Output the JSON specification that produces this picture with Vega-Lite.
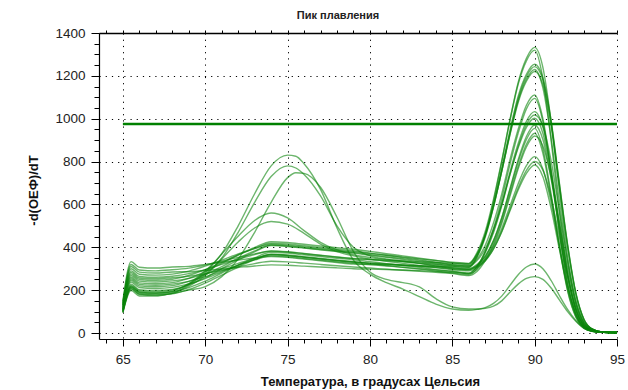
{
"$schema":"https://vega.github.io/schema/vega-lite/v6.json",
"width":518,"height":306,
"autosize":{"type":"none"},
"padding":{"left":99,"top":33,"right":11,"bottom":51},
"background":"white",
"config":{"view":{"stroke":null}},
"title":{"text":"Пик плавления","frame":"group","anchor":"middle","dx":-20,"fontSize":11,"fontWeight":"bold","font":"Liberation Sans","color":"#222","offset":5},
"datasets":{
"thr":[{"thr":975,"x1":65,"x2":95}],
"curves":[
{"s":"c1","t":65,"v":150},{"s":"c1","t":65.5,"v":333},{"s":"c1","t":66,"v":307},{"s":"c1","t":67,"v":303},{"s":"c1","t":68,"v":308},{"s":"c1","t":69,"v":311},{"s":"c1","t":70,"v":320},{"s":"c1","t":71,"v":330},{"s":"c1","t":72,"v":340},{"s":"c1","t":73,"v":350},{"s":"c1","t":74,"v":357},{"s":"c1","t":75,"v":353},{"s":"c1","t":76,"v":345},{"s":"c1","t":77,"v":337},{"s":"c1","t":78,"v":329},{"s":"c1","t":79,"v":322},{"s":"c1","t":80,"v":320},{"s":"c1","t":81,"v":318},{"s":"c1","t":82,"v":316},{"s":"c1","t":83,"v":314},{"s":"c1","t":84,"v":312},{"s":"c1","t":85,"v":310},{"s":"c1","t":86,"v":305},{"s":"c1","t":86.5,"v":356},{"s":"c1","t":87,"v":459},{"s":"c1","t":87.5,"v":613},{"s":"c1","t":88,"v":798},{"s":"c1","t":88.5,"v":994},{"s":"c1","t":89,"v":1169},{"s":"c1","t":89.5,"v":1282},{"s":"c1","t":90,"v":1333},{"s":"c1","t":90.5,"v":1240},{"s":"c1","t":91,"v":986},{"s":"c1","t":91.5,"v":667},{"s":"c1","t":92,"v":360},{"s":"c1","t":92.5,"v":147},{"s":"c1","t":93,"v":47},{"s":"c1","t":93.5,"v":12},{"s":"c1","t":94,"v":5},{"s":"c1","t":95,"v":2},
{"s":"c2","t":65,"v":140},{"s":"c2","t":65.5,"v":320},{"s":"c2","t":66,"v":294},{"s":"c2","t":67,"v":290},{"s":"c2","t":68,"v":295},{"s":"c2","t":69,"v":303},{"s":"c2","t":70,"v":317},{"s":"c2","t":71,"v":335},{"s":"c2","t":72,"v":353},{"s":"c2","t":73,"v":369},{"s":"c2","t":74,"v":382},{"s":"c2","t":75,"v":378},{"s":"c2","t":76,"v":370},{"s":"c2","t":77,"v":362},{"s":"c2","t":78,"v":354},{"s":"c2","t":79,"v":347},{"s":"c2","t":80,"v":343},{"s":"c2","t":81,"v":340},{"s":"c2","t":82,"v":336},{"s":"c2","t":83,"v":332},{"s":"c2","t":84,"v":329},{"s":"c2","t":85,"v":325},{"s":"c2","t":86,"v":320},{"s":"c2","t":86.5,"v":367},{"s":"c2","t":87,"v":460},{"s":"c2","t":87.5,"v":600},{"s":"c2","t":88,"v":768},{"s":"c2","t":88.5,"v":946},{"s":"c2","t":89,"v":1105},{"s":"c2","t":89.5,"v":1207},{"s":"c2","t":90,"v":1254},{"s":"c2","t":90.5,"v":1191},{"s":"c2","t":91,"v":991},{"s":"c2","t":91.5,"v":702},{"s":"c2","t":92,"v":414},{"s":"c2","t":92.5,"v":188},{"s":"c2","t":93,"v":63},{"s":"c2","t":93.5,"v":18},{"s":"c2","t":94,"v":6},{"s":"c2","t":95,"v":2},
{"s":"c3","t":65,"v":130},{"s":"c3","t":65.5,"v":310},{"s":"c3","t":66,"v":284},{"s":"c3","t":67,"v":280},{"s":"c3","t":68,"v":285},{"s":"c3","t":69,"v":286},{"s":"c3","t":70,"v":292},{"s":"c3","t":71,"v":299},{"s":"c3","t":72,"v":306},{"s":"c3","t":73,"v":313},{"s":"c3","t":74,"v":318},{"s":"c3","t":75,"v":316},{"s":"c3","t":76,"v":312},{"s":"c3","t":77,"v":308},{"s":"c3","t":78,"v":304},{"s":"c3","t":79,"v":300},{"s":"c3","t":80,"v":298},{"s":"c3","t":81,"v":296},{"s":"c3","t":82,"v":294},{"s":"c3","t":83,"v":291},{"s":"c3","t":84,"v":287},{"s":"c3","t":85,"v":283},{"s":"c3","t":86,"v":278},{"s":"c3","t":86.5,"v":310},{"s":"c3","t":87,"v":382},{"s":"c3","t":87.5,"v":488},{"s":"c3","t":88,"v":625},{"s":"c3","t":88.5,"v":787},{"s":"c3","t":89,"v":933},{"s":"c3","t":89.5,"v":1046},{"s":"c3","t":90,"v":1095},{"s":"c3","t":90.5,"v":986},{"s":"c3","t":91,"v":745},{"s":"c3","t":91.5,"v":471},{"s":"c3","t":92,"v":230},{"s":"c3","t":92.5,"v":88},{"s":"c3","t":93,"v":27},{"s":"c3","t":93.5,"v":8},{"s":"c3","t":94,"v":4},{"s":"c3","t":95,"v":2},
{"s":"c4","t":65,"v":145},{"s":"c4","t":65.5,"v":300},{"s":"c4","t":66,"v":274},{"s":"c4","t":67,"v":270},{"s":"c4","t":68,"v":275},{"s":"c4","t":69,"v":289},{"s":"c4","t":70,"v":312},{"s":"c4","t":71,"v":340},{"s":"c4","t":72,"v":369},{"s":"c4","t":73,"v":394},{"s":"c4","t":74,"v":414},{"s":"c4","t":75,"v":410},{"s":"c4","t":76,"v":402},{"s":"c4","t":77,"v":394},{"s":"c4","t":78,"v":386},{"s":"c4","t":79,"v":379},{"s":"c4","t":80,"v":371},{"s":"c4","t":81,"v":363},{"s":"c4","t":82,"v":355},{"s":"c4","t":83,"v":346},{"s":"c4","t":84,"v":338},{"s":"c4","t":85,"v":330},{"s":"c4","t":86,"v":325},{"s":"c4","t":86.5,"v":375},{"s":"c4","t":87,"v":474},{"s":"c4","t":87.5,"v":624},{"s":"c4","t":88,"v":803},{"s":"c4","t":88.5,"v":992},{"s":"c4","t":89,"v":1161},{"s":"c4","t":89.5,"v":1270},{"s":"c4","t":90,"v":1320},{"s":"c4","t":90.5,"v":1188},{"s":"c4","t":91,"v":898},{"s":"c4","t":91.5,"v":568},{"s":"c4","t":92,"v":277},{"s":"c4","t":92.5,"v":106},{"s":"c4","t":93,"v":33},{"s":"c4","t":93.5,"v":8},{"s":"c4","t":94,"v":4},{"s":"c4","t":95,"v":2},
{"s":"c5","t":65,"v":120},{"s":"c5","t":65.5,"v":290},{"s":"c5","t":66,"v":264},{"s":"c5","t":67,"v":260},{"s":"c5","t":68,"v":265},{"s":"c5","t":69,"v":277},{"s":"c5","t":70,"v":296},{"s":"c5","t":71,"v":320},{"s":"c5","t":72,"v":344},{"s":"c5","t":73,"v":366},{"s":"c5","t":74,"v":383},{"s":"c5","t":75,"v":379},{"s":"c5","t":76,"v":371},{"s":"c5","t":77,"v":363},{"s":"c5","t":78,"v":355},{"s":"c5","t":79,"v":348},{"s":"c5","t":80,"v":343},{"s":"c5","t":81,"v":337},{"s":"c5","t":82,"v":332},{"s":"c5","t":83,"v":326},{"s":"c5","t":84,"v":321},{"s":"c5","t":85,"v":315},{"s":"c5","t":86,"v":310},{"s":"c5","t":86.5,"v":338},{"s":"c5","t":87,"v":393},{"s":"c5","t":87.5,"v":483},{"s":"c5","t":88,"v":601},{"s":"c5","t":88.5,"v":739},{"s":"c5","t":89,"v":864},{"s":"c5","t":89.5,"v":960},{"s":"c5","t":90,"v":1002},{"s":"c5","t":90.5,"v":932},{"s":"c5","t":91,"v":741},{"s":"c5","t":91.5,"v":501},{"s":"c5","t":92,"v":271},{"s":"c5","t":92.5,"v":110},{"s":"c5","t":93,"v":35},{"s":"c5","t":93.5,"v":12},{"s":"c5","t":94,"v":5},{"s":"c5","t":95,"v":2},
{"s":"c6","t":65,"v":135},{"s":"c6","t":65.5,"v":283},{"s":"c6","t":66,"v":257},{"s":"c6","t":67,"v":253},{"s":"c6","t":68,"v":258},{"s":"c6","t":69,"v":265},{"s":"c6","t":70,"v":277},{"s":"c6","t":71,"v":293},{"s":"c6","t":72,"v":309},{"s":"c6","t":73,"v":324},{"s":"c6","t":74,"v":335},{"s":"c6","t":75,"v":332},{"s":"c6","t":76,"v":326},{"s":"c6","t":77,"v":320},{"s":"c6","t":78,"v":314},{"s":"c6","t":79,"v":308},{"s":"c6","t":80,"v":303},{"s":"c6","t":81,"v":298},{"s":"c6","t":82,"v":293},{"s":"c6","t":83,"v":288},{"s":"c6","t":84,"v":283},{"s":"c6","t":85,"v":277},{"s":"c6","t":86,"v":268},{"s":"c6","t":86.5,"v":287},{"s":"c6","t":87,"v":338},{"s":"c6","t":87.5,"v":408},{"s":"c6","t":88,"v":510},{"s":"c6","t":88.5,"v":638},{"s":"c6","t":89,"v":766},{"s":"c6","t":89.5,"v":868},{"s":"c6","t":90,"v":919},{"s":"c6","t":90.5,"v":873},{"s":"c6","t":91,"v":726},{"s":"c6","t":91.5,"v":515},{"s":"c6","t":92,"v":303},{"s":"c6","t":92.5,"v":138},{"s":"c6","t":93,"v":46},{"s":"c6","t":93.5,"v":18},{"s":"c6","t":94,"v":6},{"s":"c6","t":95,"v":2},
{"s":"c7","t":65,"v":125},{"s":"c7","t":65.5,"v":276},{"s":"c7","t":66,"v":250},{"s":"c7","t":67,"v":246},{"s":"c7","t":68,"v":251},{"s":"c7","t":69,"v":269},{"s":"c7","t":70,"v":296},{"s":"c7","t":71,"v":330},{"s":"c7","t":72,"v":364},{"s":"c7","t":73,"v":395},{"s":"c7","t":74,"v":419},{"s":"c7","t":75,"v":415},{"s":"c7","t":76,"v":407},{"s":"c7","t":77,"v":399},{"s":"c7","t":78,"v":391},{"s":"c7","t":79,"v":384},{"s":"c7","t":80,"v":373},{"s":"c7","t":81,"v":363},{"s":"c7","t":82,"v":352},{"s":"c7","t":83,"v":341},{"s":"c7","t":84,"v":331},{"s":"c7","t":85,"v":320},{"s":"c7","t":86,"v":315},{"s":"c7","t":86.5,"v":361},{"s":"c7","t":87,"v":452},{"s":"c7","t":87.5,"v":590},{"s":"c7","t":88,"v":754},{"s":"c7","t":88.5,"v":928},{"s":"c7","t":89,"v":1084},{"s":"c7","t":89.5,"v":1184},{"s":"c7","t":90,"v":1230},{"s":"c7","t":90.5,"v":1144},{"s":"c7","t":91,"v":910},{"s":"c7","t":91.5,"v":615},{"s":"c7","t":92,"v":332},{"s":"c7","t":92.5,"v":135},{"s":"c7","t":93,"v":43},{"s":"c7","t":93.5,"v":12},{"s":"c7","t":94,"v":5},{"s":"c7","t":95,"v":2},
{"s":"c8","t":65,"v":115},{"s":"c8","t":65.5,"v":268},{"s":"c8","t":66,"v":242},{"s":"c8","t":67,"v":238},{"s":"c8","t":68,"v":243},{"s":"c8","t":69,"v":255},{"s":"c8","t":70,"v":275},{"s":"c8","t":71,"v":300},{"s":"c8","t":72,"v":325},{"s":"c8","t":73,"v":348},{"s":"c8","t":74,"v":365},{"s":"c8","t":75,"v":361},{"s":"c8","t":76,"v":353},{"s":"c8","t":77,"v":345},{"s":"c8","t":78,"v":337},{"s":"c8","t":79,"v":330},{"s":"c8","t":80,"v":326},{"s":"c8","t":81,"v":322},{"s":"c8","t":82,"v":318},{"s":"c8","t":83,"v":313},{"s":"c8","t":84,"v":309},{"s":"c8","t":85,"v":305},{"s":"c8","t":86,"v":300},{"s":"c8","t":86.5,"v":320},{"s":"c8","t":87,"v":359},{"s":"c8","t":87.5,"v":431},{"s":"c8","t":88,"v":536},{"s":"c8","t":88.5,"v":667},{"s":"c8","t":89,"v":798},{"s":"c8","t":89.5,"v":903},{"s":"c8","t":90,"v":955},{"s":"c8","t":90.5,"v":860},{"s":"c8","t":91,"v":649},{"s":"c8","t":91.5,"v":411},{"s":"c8","t":92,"v":201},{"s":"c8","t":92.5,"v":76},{"s":"c8","t":93,"v":24},{"s":"c8","t":93.5,"v":8},{"s":"c8","t":94,"v":4},{"s":"c8","t":95,"v":2},
{"s":"c9","t":65,"v":130},{"s":"c9","t":65.5,"v":260},{"s":"c9","t":66,"v":234},{"s":"c9","t":67,"v":230},{"s":"c9","t":68,"v":235},{"s":"c9","t":69,"v":255},{"s":"c9","t":70,"v":286},{"s":"c9","t":71,"v":325},{"s":"c9","t":72,"v":364},{"s":"c9","t":73,"v":399},{"s":"c9","t":74,"v":426},{"s":"c9","t":75,"v":422},{"s":"c9","t":76,"v":414},{"s":"c9","t":77,"v":406},{"s":"c9","t":78,"v":398},{"s":"c9","t":79,"v":391},{"s":"c9","t":80,"v":381},{"s":"c9","t":81,"v":370},{"s":"c9","t":82,"v":360},{"s":"c9","t":83,"v":349},{"s":"c9","t":84,"v":339},{"s":"c9","t":85,"v":328},{"s":"c9","t":86,"v":323},{"s":"c9","t":86.5,"v":368},{"s":"c9","t":87,"v":458},{"s":"c9","t":87.5,"v":592},{"s":"c9","t":88,"v":754},{"s":"c9","t":88.5,"v":924},{"s":"c9","t":89,"v":1076},{"s":"c9","t":89.5,"v":1175},{"s":"c9","t":90,"v":1220},{"s":"c9","t":90.5,"v":1159},{"s":"c9","t":91,"v":964},{"s":"c9","t":91.5,"v":683},{"s":"c9","t":92,"v":403},{"s":"c9","t":92.5,"v":183},{"s":"c9","t":93,"v":61},{"s":"c9","t":93.5,"v":18},{"s":"c9","t":94,"v":6},{"s":"c9","t":95,"v":2},
{"s":"c10","t":65,"v":110},{"s":"c10","t":65.5,"v":253},{"s":"c10","t":66,"v":227},{"s":"c10","t":67,"v":223},{"s":"c10","t":68,"v":228},{"s":"c10","t":69,"v":241},{"s":"c10","t":70,"v":263},{"s":"c10","t":71,"v":290},{"s":"c10","t":72,"v":317},{"s":"c10","t":73,"v":341},{"s":"c10","t":74,"v":360},{"s":"c10","t":75,"v":356},{"s":"c10","t":76,"v":348},{"s":"c10","t":77,"v":340},{"s":"c10","t":78,"v":332},{"s":"c10","t":79,"v":325},{"s":"c10","t":80,"v":319},{"s":"c10","t":81,"v":313},{"s":"c10","t":82,"v":307},{"s":"c10","t":83,"v":300},{"s":"c10","t":84,"v":294},{"s":"c10","t":85,"v":288},{"s":"c10","t":86,"v":280},{"s":"c10","t":86.5,"v":310},{"s":"c10","t":87,"v":379},{"s":"c10","t":87.5,"v":476},{"s":"c10","t":88,"v":602},{"s":"c10","t":88.5,"v":751},{"s":"c10","t":89,"v":884},{"s":"c10","t":89.5,"v":988},{"s":"c10","t":90,"v":1033},{"s":"c10","t":90.5,"v":961},{"s":"c10","t":91,"v":764},{"s":"c10","t":91.5,"v":517},{"s":"c10","t":92,"v":279},{"s":"c10","t":92.5,"v":114},{"s":"c10","t":93,"v":36},{"s":"c10","t":93.5,"v":12},{"s":"c10","t":94,"v":5},{"s":"c10","t":95,"v":2},
{"s":"c11","t":65,"v":120},{"s":"c11","t":65.5,"v":246},{"s":"c11","t":66,"v":220},{"s":"c11","t":67,"v":216},{"s":"c11","t":68,"v":221},{"s":"c11","t":69,"v":241},{"s":"c11","t":70,"v":272},{"s":"c11","t":71,"v":310},{"s":"c11","t":72,"v":349},{"s":"c11","t":73,"v":383},{"s":"c11","t":74,"v":410},{"s":"c11","t":75,"v":406},{"s":"c11","t":76,"v":398},{"s":"c11","t":77,"v":390},{"s":"c11","t":78,"v":382},{"s":"c11","t":79,"v":375},{"s":"c11","t":80,"v":366},{"s":"c11","t":81,"v":356},{"s":"c11","t":82,"v":347},{"s":"c11","t":83,"v":337},{"s":"c11","t":84,"v":328},{"s":"c11","t":85,"v":318},{"s":"c11","t":86,"v":313},{"s":"c11","t":86.5,"v":345},{"s":"c11","t":87,"v":409},{"s":"c11","t":87.5,"v":513},{"s":"c11","t":88,"v":648},{"s":"c11","t":88.5,"v":808},{"s":"c11","t":89,"v":951},{"s":"c11","t":89.5,"v":1063},{"s":"c11","t":90,"v":1111},{"s":"c11","t":90.5,"v":1000},{"s":"c11","t":91,"v":755},{"s":"c11","t":91.5,"v":478},{"s":"c11","t":92,"v":233},{"s":"c11","t":92.5,"v":89},{"s":"c11","t":93,"v":28},{"s":"c11","t":93.5,"v":8},{"s":"c11","t":94,"v":4},{"s":"c11","t":95,"v":2},
{"s":"c12","t":65,"v":105},{"s":"c12","t":65.5,"v":238},{"s":"c12","t":66,"v":212},{"s":"c12","t":67,"v":208},{"s":"c12","t":68,"v":213},{"s":"c12","t":69,"v":229},{"s":"c12","t":70,"v":254},{"s":"c12","t":71,"v":285},{"s":"c12","t":72,"v":316},{"s":"c12","t":73,"v":344},{"s":"c12","t":74,"v":366},{"s":"c12","t":75,"v":362},{"s":"c12","t":76,"v":354},{"s":"c12","t":77,"v":346},{"s":"c12","t":78,"v":338},{"s":"c12","t":79,"v":331},{"s":"c12","t":80,"v":326},{"s":"c12","t":81,"v":321},{"s":"c12","t":82,"v":316},{"s":"c12","t":83,"v":310},{"s":"c12","t":84,"v":305},{"s":"c12","t":85,"v":300},{"s":"c12","t":86,"v":295},{"s":"c12","t":86.5,"v":315},{"s":"c12","t":87,"v":356},{"s":"c12","t":87.5,"v":430},{"s":"c12","t":88,"v":538},{"s":"c12","t":88.5,"v":674},{"s":"c12","t":89,"v":809},{"s":"c12","t":89.5,"v":917},{"s":"c12","t":90,"v":971},{"s":"c12","t":90.5,"v":903},{"s":"c12","t":91,"v":719},{"s":"c12","t":91.5,"v":486},{"s":"c12","t":92,"v":262},{"s":"c12","t":92.5,"v":107},{"s":"c12","t":93,"v":34},{"s":"c12","t":93.5,"v":12},{"s":"c12","t":94,"v":5},{"s":"c12","t":95,"v":2},
{"s":"c13","t":65,"v":110},{"s":"c13","t":65.5,"v":228},{"s":"c13","t":66,"v":202},{"s":"c13","t":67,"v":198},{"s":"c13","t":68,"v":203},{"s":"c13","t":69,"v":225},{"s":"c13","t":70,"v":258},{"s":"c13","t":71,"v":300},{"s":"c13","t":72,"v":341},{"s":"c13","t":73,"v":379},{"s":"c13","t":74,"v":408},{"s":"c13","t":75,"v":404},{"s":"c13","t":76,"v":396},{"s":"c13","t":77,"v":388},{"s":"c13","t":78,"v":380},{"s":"c13","t":79,"v":373},{"s":"c13","t":80,"v":363},{"s":"c13","t":81,"v":353},{"s":"c13","t":82,"v":343},{"s":"c13","t":83,"v":332},{"s":"c13","t":84,"v":322},{"s":"c13","t":85,"v":312},{"s":"c13","t":86,"v":307},{"s":"c13","t":86.5,"v":354},{"s":"c13","t":87,"v":447},{"s":"c13","t":87.5,"v":588},{"s":"c13","t":88,"v":756},{"s":"c13","t":88.5,"v":934},{"s":"c13","t":89,"v":1093},{"s":"c13","t":89.5,"v":1196},{"s":"c13","t":90,"v":1243},{"s":"c13","t":90.5,"v":1181},{"s":"c13","t":91,"v":982},{"s":"c13","t":91.5,"v":696},{"s":"c13","t":92,"v":410},{"s":"c13","t":92.5,"v":186},{"s":"c13","t":93,"v":62},{"s":"c13","t":93.5,"v":18},{"s":"c13","t":94,"v":6},{"s":"c13","t":95,"v":2},
{"s":"c14","t":65,"v":100},{"s":"c14","t":65.5,"v":218},{"s":"c14","t":66,"v":192},{"s":"c14","t":67,"v":188},{"s":"c14","t":68,"v":193},{"s":"c14","t":69,"v":212},{"s":"c14","t":70,"v":242},{"s":"c14","t":71,"v":280},{"s":"c14","t":72,"v":317},{"s":"c14","t":73,"v":351},{"s":"c14","t":74,"v":377},{"s":"c14","t":75,"v":373},{"s":"c14","t":76,"v":365},{"s":"c14","t":77,"v":357},{"s":"c14","t":78,"v":349},{"s":"c14","t":79,"v":342},{"s":"c14","t":80,"v":333},{"s":"c14","t":81,"v":324},{"s":"c14","t":82,"v":315},{"s":"c14","t":83,"v":306},{"s":"c14","t":84,"v":296},{"s":"c14","t":85,"v":287},{"s":"c14","t":86,"v":277},{"s":"c14","t":86.5,"v":296},{"s":"c14","t":87,"v":348},{"s":"c14","t":87.5,"v":418},{"s":"c14","t":88,"v":521},{"s":"c14","t":88.5,"v":650},{"s":"c14","t":89,"v":778},{"s":"c14","t":89.5,"v":881},{"s":"c14","t":90,"v":932},{"s":"c14","t":90.5,"v":839},{"s":"c14","t":91,"v":634},{"s":"c14","t":91.5,"v":401},{"s":"c14","t":92,"v":196},{"s":"c14","t":92.5,"v":75},{"s":"c14","t":93,"v":23},{"s":"c14","t":93.5,"v":8},{"s":"c14","t":94,"v":4},{"s":"c14","t":95,"v":2},
{"s":"c15","t":65,"v":95},{"s":"c15","t":65.5,"v":208},{"s":"c15","t":66,"v":182},{"s":"c15","t":67,"v":178},{"s":"c15","t":68,"v":183},{"s":"c15","t":69,"v":203},{"s":"c15","t":70,"v":233},{"s":"c15","t":71,"v":270},{"s":"c15","t":72,"v":308},{"s":"c15","t":73,"v":342},{"s":"c15","t":74,"v":368},{"s":"c15","t":75,"v":364},{"s":"c15","t":76,"v":356},{"s":"c15","t":77,"v":348},{"s":"c15","t":78,"v":340},{"s":"c15","t":79,"v":333},{"s":"c15","t":80,"v":324},{"s":"c15","t":81,"v":315},{"s":"c15","t":82,"v":306},{"s":"c15","t":83,"v":298},{"s":"c15","t":84,"v":289},{"s":"c15","t":85,"v":280},{"s":"c15","t":86,"v":272},{"s":"c15","t":86.5,"v":301},{"s":"c15","t":87,"v":373},{"s":"c15","t":87.5,"v":468},{"s":"c15","t":88,"v":592},{"s":"c15","t":88.5,"v":739},{"s":"c15","t":89,"v":871},{"s":"c15","t":89.5,"v":973},{"s":"c15","t":90,"v":1017},{"s":"c15","t":90.5,"v":966},{"s":"c15","t":91,"v":803},{"s":"c15","t":91.5,"v":570},{"s":"c15","t":92,"v":336},{"s":"c15","t":92.5,"v":153},{"s":"c15","t":93,"v":51},{"s":"c15","t":93.5,"v":18},{"s":"c15","t":94,"v":6},{"s":"c15","t":95,"v":2},
{"s":"D","t":65,"v":105},{"s":"D","t":65.5,"v":222},{"s":"D","t":66,"v":197},{"s":"D","t":67,"v":193},{"s":"D","t":68,"v":200},{"s":"D","t":69,"v":228},{"s":"D","t":70,"v":282},{"s":"D","t":71,"v":368},{"s":"D","t":72,"v":452},{"s":"D","t":73,"v":525},{"s":"D","t":74,"v":560},{"s":"D","t":75,"v":537},{"s":"D","t":76,"v":478},{"s":"D","t":77,"v":423},{"s":"D","t":78,"v":388},{"s":"D","t":79,"v":365},{"s":"D","t":80,"v":352},{"s":"D","t":81,"v":343},{"s":"D","t":82,"v":335},{"s":"D","t":83,"v":325},{"s":"D","t":84,"v":315},{"s":"D","t":85,"v":305},{"s":"D","t":86,"v":298},{"s":"D","t":86.5,"v":314},{"s":"D","t":87,"v":345},{"s":"D","t":87.5,"v":403},{"s":"D","t":88,"v":487},{"s":"D","t":88.5,"v":592},{"s":"D","t":89,"v":697},{"s":"D","t":89.5,"v":781},{"s":"D","t":90,"v":823},{"s":"D","t":90.5,"v":765},{"s":"D","t":91,"v":609},{"s":"D","t":91.5,"v":412},{"s":"D","t":92,"v":222},{"s":"D","t":92.5,"v":91},{"s":"D","t":93,"v":29},{"s":"D","t":93.5,"v":12},{"s":"D","t":94,"v":5},{"s":"D","t":95,"v":2},
{"s":"E","t":65,"v":100},{"s":"E","t":65.5,"v":212},{"s":"E","t":66,"v":187},{"s":"E","t":67,"v":183},{"s":"E","t":68,"v":190},{"s":"E","t":69,"v":218},{"s":"E","t":70,"v":268},{"s":"E","t":71,"v":345},{"s":"E","t":72,"v":425},{"s":"E","t":73,"v":490},{"s":"E","t":74,"v":520},{"s":"E","t":75,"v":508},{"s":"E","t":76,"v":465},{"s":"E","t":77,"v":415},{"s":"E","t":78,"v":380},{"s":"E","t":79,"v":360},{"s":"E","t":80,"v":345},{"s":"E","t":81,"v":335},{"s":"E","t":82,"v":325},{"s":"E","t":83,"v":315},{"s":"E","t":84,"v":305},{"s":"E","t":85,"v":295},{"s":"E","t":86,"v":290},{"s":"E","t":86.5,"v":305},{"s":"E","t":87,"v":336},{"s":"E","t":87.5,"v":392},{"s":"E","t":88,"v":474},{"s":"E","t":88.5,"v":576},{"s":"E","t":89,"v":678},{"s":"E","t":89.5,"v":759},{"s":"E","t":90,"v":800},{"s":"E","t":90.5,"v":760},{"s":"E","t":91,"v":632},{"s":"E","t":91.5,"v":448},{"s":"E","t":92,"v":264},{"s":"E","t":92.5,"v":120},{"s":"E","t":93,"v":40},{"s":"E","t":93.5,"v":18},{"s":"E","t":94,"v":6},{"s":"E","t":95,"v":2},
{"s":"B","t":65,"v":100},{"s":"B","t":65.5,"v":205},{"s":"B","t":66,"v":180},{"s":"B","t":67,"v":176},{"s":"B","t":68,"v":185},{"s":"B","t":69,"v":225},{"s":"B","t":70,"v":275},{"s":"B","t":71,"v":350},{"s":"B","t":72,"v":470},{"s":"B","t":73,"v":610},{"s":"B","t":74,"v":730},{"s":"B","t":75,"v":780},{"s":"B","t":75.5,"v":770},{"s":"B","t":76,"v":740},{"s":"B","t":77,"v":640},{"s":"B","t":78,"v":500},{"s":"B","t":79,"v":400},{"s":"B","t":80,"v":360},{"s":"B","t":81,"v":345},{"s":"B","t":82,"v":335},{"s":"B","t":83,"v":325},{"s":"B","t":84,"v":312},{"s":"B","t":85,"v":300},{"s":"B","t":86,"v":295},{"s":"B","t":86.5,"v":310},{"s":"B","t":87,"v":339},{"s":"B","t":87.5,"v":393},{"s":"B","t":88,"v":471},{"s":"B","t":88.5,"v":569},{"s":"B","t":89,"v":667},{"s":"B","t":89.5,"v":745},{"s":"B","t":90,"v":784},{"s":"B","t":90.5,"v":729},{"s":"B","t":91,"v":580},{"s":"B","t":91.5,"v":392},{"s":"B","t":92,"v":212},{"s":"B","t":92.5,"v":86},{"s":"B","t":93,"v":27},{"s":"B","t":93.5,"v":12},{"s":"B","t":94,"v":5},{"s":"B","t":95,"v":2},
{"s":"A","t":65,"v":110},{"s":"A","t":65.5,"v":215},{"s":"A","t":66,"v":190},{"s":"A","t":67,"v":186},{"s":"A","t":68,"v":195},{"s":"A","t":69,"v":230},{"s":"A","t":70,"v":290},{"s":"A","t":71,"v":370},{"s":"A","t":72,"v":500},{"s":"A","t":73,"v":650},{"s":"A","t":74,"v":780},{"s":"A","t":75,"v":830},{"s":"A","t":75.5,"v":825},{"s":"A","t":76,"v":790},{"s":"A","t":77,"v":670},{"s":"A","t":78,"v":490},{"s":"A","t":79,"v":340},{"s":"A","t":80,"v":275},{"s":"A","t":81,"v":235},{"s":"A","t":82,"v":205},{"s":"A","t":83,"v":170},{"s":"A","t":84,"v":135},{"s":"A","t":85,"v":112},{"s":"A","t":86,"v":106},{"s":"A","t":86.5,"v":110},{"s":"A","t":87,"v":118},{"s":"A","t":87.5,"v":138},{"s":"A","t":88,"v":172},{"s":"A","t":88.5,"v":222},{"s":"A","t":89,"v":272},{"s":"A","t":89.5,"v":308},{"s":"A","t":90,"v":322},{"s":"A","t":90.5,"v":300},{"s":"A","t":91,"v":245},{"s":"A","t":91.5,"v":175},{"s":"A","t":92,"v":110},{"s":"A","t":92.5,"v":58},{"s":"A","t":93,"v":22},{"s":"A","t":93.5,"v":9},{"s":"A","t":94,"v":4},{"s":"A","t":95,"v":2},
{"s":"C","t":65,"v":95},{"s":"C","t":65.5,"v":198},{"s":"C","t":66,"v":173},{"s":"C","t":67,"v":172},{"s":"C","t":68,"v":185},{"s":"C","t":69,"v":200},{"s":"C","t":70,"v":216},{"s":"C","t":71,"v":263},{"s":"C","t":72,"v":345},{"s":"C","t":73,"v":470},{"s":"C","t":74,"v":610},{"s":"C","t":75,"v":725},{"s":"C","t":75.5,"v":748},{"s":"C","t":76,"v":745},{"s":"C","t":77,"v":680},{"s":"C","t":78,"v":540},{"s":"C","t":79,"v":380},{"s":"C","t":80,"v":285},{"s":"C","t":81,"v":250},{"s":"C","t":82,"v":235},{"s":"C","t":82.5,"v":228},{"s":"C","t":83,"v":215},{"s":"C","t":84,"v":160},{"s":"C","t":85,"v":122},{"s":"C","t":86,"v":112},{"s":"C","t":86.5,"v":112},{"s":"C","t":87,"v":115},{"s":"C","t":87.5,"v":125},{"s":"C","t":88,"v":150},{"s":"C","t":88.5,"v":190},{"s":"C","t":89,"v":228},{"s":"C","t":89.5,"v":255},{"s":"C","t":90,"v":263},{"s":"C","t":90.5,"v":250},{"s":"C","t":91,"v":210},{"s":"C","t":91.5,"v":155},{"s":"C","t":92,"v":100},{"s":"C","t":92.5,"v":55},{"s":"C","t":93,"v":22},{"s":"C","t":93.5,"v":9},{"s":"C","t":94,"v":4},{"s":"C","t":95,"v":2}
]},
"resolve":{"axis":{"x":"independent","y":"independent"}},
"layer":[
{"data":{"name":"curves"},
 "mark":{"type":"line","interpolate":"monotone","stroke":"#0a840a","strokeOpacity":0.6,"strokeWidth":1.4},
 "encoding":{
  "x":{"field":"t","type":"quantitative","scale":{"domain":[63.55,95],"nice":false,"zero":false},
   "axis":{"values":[64,65,66,67,68,69,70,71,72,73,74,75,76,77,78,79,80,81,82,83,84,85,86,87,88,89,90,91,92,93,94,95],
    "format":"d","labelExpr":"datum.value % 5 === 0 ? datum.label : ''","labelOverlap":false,"labelFlush":false,
    "tickSize":{"condition":{"test":"datum.value % 5 === 0","value":7},"value":4},
    "tickColor":"#000","domainColor":"#000","domainWidth":1.2,
    "grid":true,"gridColor":"#000","gridDash":[1.2,5],"gridWidth":1,
    "gridOpacity":{"condition":{"test":"datum.value % 5 === 0","value":1},"value":0},
    "labelFont":"Liberation Sans","labelFontSize":13.5,"labelColor":"#222","labelPadding":6,
    "title":"Температура, в градусах Цельсия","titleFont":"Liberation Sans","titleFontSize":13,"titleFontWeight":"bold","titleColor":"#111",
    "titleX":271,"titleY":42,"titleBaseline":"middle","titleAnchor":"middle"}},
  "y":{"field":"v","type":"quantitative","scale":{"domain":[-28,1400],"nice":false,"zero":false},
   "axis":{"values":[0,50,100,150,200,250,300,350,400,450,500,550,600,650,700,750,800,850,900,950,1000,1050,1100,1150,1200,1250,1300,1350,1400],
    "format":"d","labelExpr":"datum.value % 200 === 0 ? datum.label : ''","labelOverlap":false,"labelFlush":false,
    "tickSize":{"condition":{"test":"datum.value % 200 === 0","value":8},"value":5},
    "tickColor":"#000","domainColor":"#000","domainWidth":1.2,
    "grid":true,"gridColor":"#000","gridDash":[1.2,5],"gridWidth":1,
    "gridOpacity":{"condition":{"test":"datum.value % 200 === 0","value":1},"value":0},
    "labelFont":"Liberation Sans","labelFontSize":13.5,"labelColor":"#222","labelPadding":6,
    "title":"-d(ОЕФ)/dT","titleFont":"Liberation Sans","titleFontSize":13,"titleFontWeight":"bold","titleColor":"#111",
    "titleX":-66,"titleY":157,"titleBaseline":"middle","titleAnchor":"middle"}},
  "detail":{"field":"s","type":"nominal"}}},
{"data":{"name":"thr"},
 "mark":{"type":"rule","stroke":"#008000","strokeWidth":2.5},
 "encoding":{
  "x":{"field":"x1","type":"quantitative","scale":{"domain":[63.55,95],"nice":false,"zero":false},
   "axis":{"orient":"top","values":[64,65,66,67,68,69,70,71,72,73,74,75,76,77,78,79,80,81,82,83,84,85,86,87,88,89,90,91,92,93,94,95],"labels":false,"grid":false,"tickSize":3,"tickColor":"#000","domainColor":"#000","domainWidth":1.5,"title":null}},
  "x2":{"field":"x2"},
  "y":{"field":"thr","type":"quantitative","scale":{"domain":[-28,1400],"nice":false,"zero":false},"axis":null}}}
]
}
